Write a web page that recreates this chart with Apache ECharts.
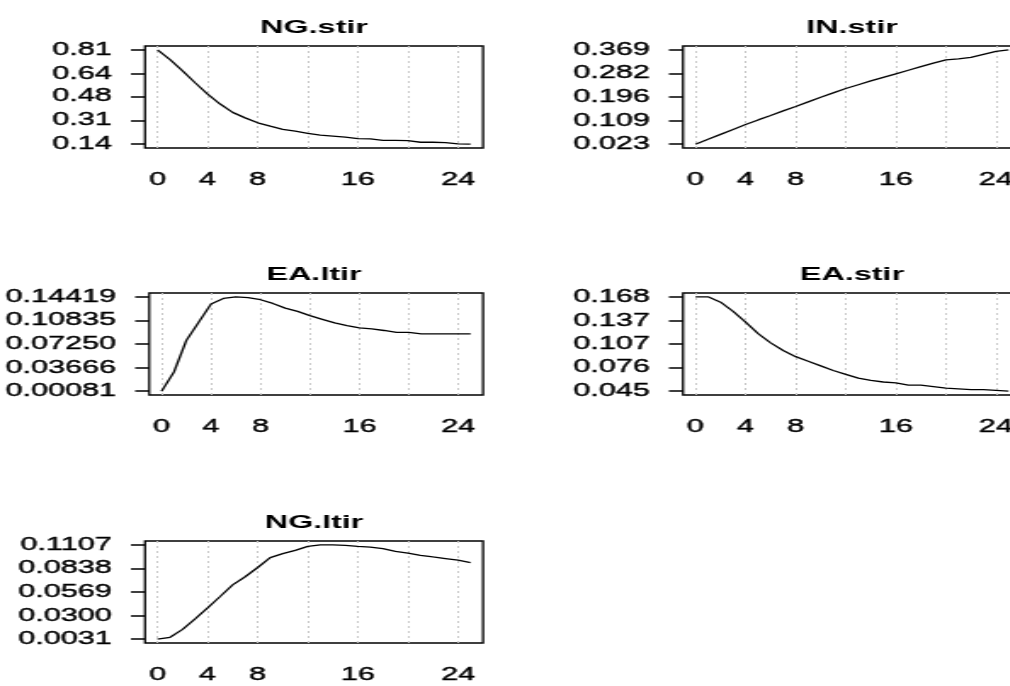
<!DOCTYPE html>
<html>
<head>
<meta charset="utf-8">
<script src="https://cdn.jsdelivr.net/npm/echarts@6/dist/echarts.min.js"></script>
<style>
  html, body { margin: 0; padding: 0; overflow: hidden; background: #fff; width: 1010px; height: 686px; }
  /* the reference is stretched sideways, so draw narrow and widen with css.
     the canvas is a bit wider than the page so the right column runs off the edge */
  #chart { width: 620px; height: 686px; transform: scaleX(1.7); transform-origin: 0 0; }
</style>
</head>
<body>
<div id="chart"></div>
<script>
const S = 1.7

// horizon 0..25
const steps = [0, 1, 2, 3, 4, 5, 6, 7, 8, 9, 10, 11, 12, 13, 14, 15, 16, 17, 18, 19, 20, 21, 22, 23, 24, 25]

const ngStir = [0.81, 0.74, 0.66, 0.576, 0.495, 0.425, 0.366, 0.327, 0.292, 0.268, 0.245, 0.233, 0.217, 0.205, 0.198, 0.19,
  0.18, 0.178, 0.168, 0.168, 0.165, 0.154, 0.154, 0.152, 0.143, 0.14]
const inStir = [0.023, 0.041, 0.059, 0.077, 0.095, 0.112, 0.128, 0.145, 0.161, 0.178, 0.195, 0.211, 0.227, 0.241, 0.255, 0.268,
  0.281, 0.294, 0.307, 0.32, 0.332, 0.336, 0.341, 0.352, 0.363, 0.369]
const eaLtir = [0.00081, 0.03, 0.0778, 0.1055, 0.1331, 0.1417, 0.14419, 0.143, 0.1397, 0.1341, 0.127, 0.122, 0.1155, 0.11, 0.1045, 0.1004,
  0.097, 0.0954, 0.093, 0.09, 0.09, 0.0878, 0.0878, 0.0878, 0.0878, 0.0878]
const eaStir = [0.168, 0.168, 0.161, 0.149, 0.135, 0.12, 0.108, 0.098, 0.09, 0.084, 0.078, 0.072, 0.067, 0.062, 0.059, 0.057,
  0.056, 0.053, 0.053, 0.051, 0.049, 0.048, 0.047, 0.047, 0.046, 0.045]
const ngLtir = [0.0031, 0.0053, 0.0143, 0.0263, 0.0387, 0.0518, 0.065, 0.0743, 0.0848, 0.0961, 0.1006, 0.1043, 0.1088, 0.1107, 0.1107, 0.11,
  0.1088, 0.108, 0.1062, 0.1032, 0.1013, 0.0987, 0.0968, 0.095, 0.0931, 0.0905]

// tick labels
const ngStirTicks = ['0.14', '0.31', '0.48', '0.64', '0.81']
const inStirTicks = ['0.023', '0.109', '0.196', '0.282', '0.369']
const eaLtirTicks = ['0.00081', '0.03666', '0.07250', '0.10835', '0.14419']
const eaStirTicks = ['0.045', '0.076', '0.107', '0.137', '0.168']
const ngLtirTicks = ['0.0031', '0.0300', '0.0569', '0.0838', '0.1107']
const xLabels = [0, 4, 8, 16, 24]
const xGrid = [0, 4, 8, 12, 16, 20, 24]

const panels = [
  { name: 'NG.stir', values: ngStir, ticks: ngStirTicks },
  { name: 'IN.stir', values: inStir, ticks: inStirTicks },
  { name: 'EA.ltir', values: eaLtir, ticks: eaLtirTicks },
  { name: 'EA.stir', values: eaStir, ticks: eaStirTicks },
  { name: 'NG.ltir', values: ngLtir, ticks: ngLtirTicks }
]

// box corners in screen px (left, top), all boxes 338 x 102
const boxes = [[145, 46], [683, 46], [145, 293], [683, 293], [145, 541]]
const boxW = 338
const boxH = 102
const font = 'Liberation Sans, Arial, sans-serif'
// a thin outline makes the glyphs as heavy as the blurry original
const heavy = { textBorderColor: '#000', textBorderWidth: 0.4 }

const chart = echarts.init(document.getElementById('chart'))

let title = [], grid = [], xAxis = [], yAxis = [], series = []
panels.forEach((p, i) => {
  const [bx, by] = boxes[i]
  const tickVals = p.ticks.map(Number)
  const lo = tickVals[0]
  const hi = tickVals[tickVals.length - 1]
  const pad = (hi - lo) * 0.04
  title.push({
    text: p.name,
    left: (bx + boxW / 2) / S,
    top: by - 28,
    textAlign: 'center',
    padding: 0,
    textStyle: { fontSize: 19, fontWeight: 'bold', color: '#000', fontFamily: font }
  })
  grid.push({
    left: bx / S, top: by, width: boxW / S, height: boxH,
    show: true, borderColor: '#000', borderWidth: 1.3, backgroundColor: 'transparent'
  })
  xAxis.push({
    type: 'value', gridIndex: i, min: -1, max: 26,
    axisLine: { show: false, onZero: false },
    axisTick: { show: false, customValues: xGrid },
    axisLabel: {
      customValues: xLabels, margin: 23,
      fontSize: 18, color: '#000', fontFamily: font, ...heavy
    },
    splitLine: { show: true, lineStyle: { color: '#c8c8c8', width: 1, type: [2, 3] } }
  })
  yAxis.push({
    type: 'value', gridIndex: i, min: lo - pad, max: hi + pad,
    axisLine: { show: false, onZero: false },
    axisTick: { show: true, length: 8.3, customValues: tickVals, lineStyle: { color: '#000', width: 1.5 } },
    axisLabel: {
      customValues: tickVals, margin: 19.5, padding: [5, 0, 0, 0],
      fontSize: 18, color: '#000', fontFamily: font, ...heavy,
      formatter: (v) => {
        let best = 0
        tickVals.forEach((t, k) => { if (Math.abs(t - v) < Math.abs(tickVals[best] - v)) best = k })
        return p.ticks[best]
      }
    },
    splitLine: { show: false }
  })
  series.push({
    type: 'line', xAxisIndex: i, yAxisIndex: i,
    data: steps.map((s, k) => [s, p.values[k]]),
    symbol: 'none', clip: false,
    lineStyle: { color: '#000', width: 1.3 }
  })
})

chart.setOption({
  animation: false,
  title, grid, xAxis, yAxis, series
})
</script>
</body>
</html>
